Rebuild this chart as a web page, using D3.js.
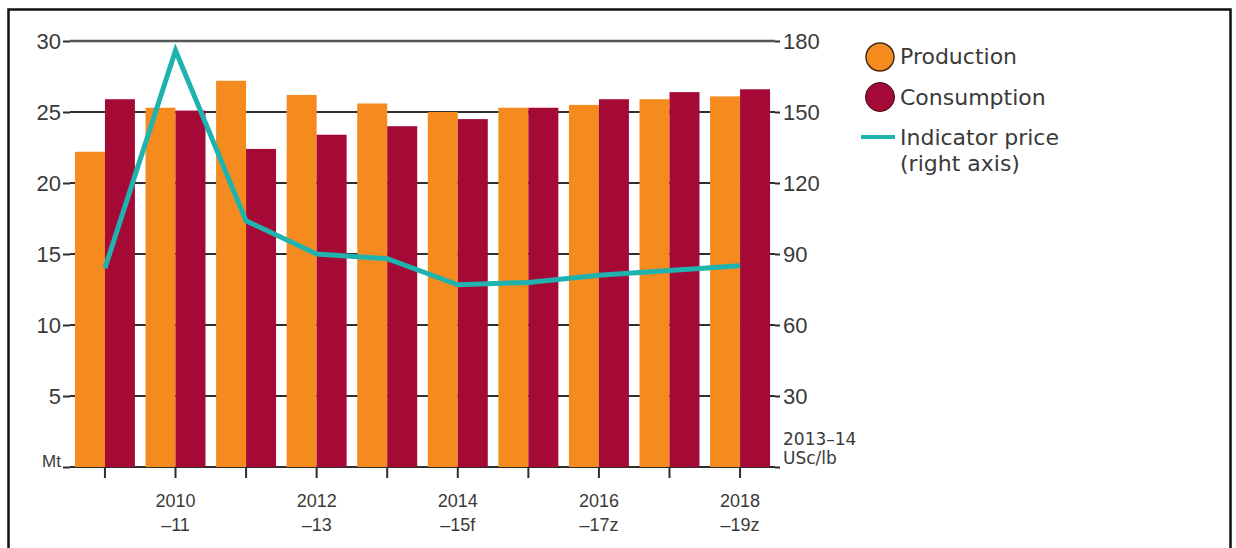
<!DOCTYPE html>
<html>
<head>
<meta charset="utf-8">
<script src="https://cdn.jsdelivr.net/npm/d3@7"></script>
<style>
  body { margin: 0; background: #fff; }
  svg { display: block; font-family: "DejaVu Sans", sans-serif; }
  .lbl { fill: #3a3a3a; }
</style>
</head>
<body>
<svg id="chart" width="1236" height="548"></svg>
<script>
// data
var seasons = ["2009-10","2010-11","2011-12","2012-13","2013-14","2014-15f","2015-16","2016-17z","2017-18","2018-19z"];
var production = [22.2, 25.3, 27.2, 26.2, 25.6, 25.0, 25.3, 25.5, 25.9, 26.1];
var consumption = [25.9, 25.1, 22.4, 23.4, 24.0, 24.5, 25.3, 25.9, 26.4, 26.6];
var price = [84, 176, 104, 90, 88, 77, 78, 81, 83, 85];
var xLabels = {"2010-11": ["2010","\u201311"], "2012-13": ["2012","\u201313"], "2014-15f": ["2014","\u201315f"], "2016-17z": ["2016","\u201317z"], "2018-19z": ["2018","\u201319z"]};
var leftTicks = [0, 5, 10, 15, 20, 25, 30];
var rightTicks = [0, 30, 60, 90, 120, 150, 180];

var colProd = "#f58b1f", colCons = "#a50a36", colPrice = "#1fb3b0", ink = "#2e2e2e";

var svg = d3.select("#chart");

// frame
svg.append("rect")
   .attr("x", 8.5).attr("y", 9.5)
   .attr("width", 1222).attr("height", 560)
   .attr("fill", "none").attr("stroke", "#111").attr("stroke-width", 2.5);

var pLeft = 70, pRight = 775, pTop = 41, pBottom = 467;

var x = d3.scaleBand().domain(seasons).range([pLeft, pRight]).paddingInner(0.15).paddingOuter(0.07);
var yL = d3.scaleLinear().domain([0, 30]).range([pBottom, pTop]);
var yR = d3.scaleLinear().domain([0, 180]).range([pBottom, pTop]);
var bw = x.bandwidth();

// gridlines behind bars
svg.append("g")
   .selectAll("line")
   .data(leftTicks)
   .enter()
   .append("line")
   .attr("x1", pLeft).attr("x2", pRight)
   .attr("y1", function (d) { return yL(d); })
   .attr("y2", function (d) { return yL(d); })
   .attr("stroke", function (d) { return d == 30 ? "#555" : ink; })
   .attr("stroke-width", function (d) { return d == 30 ? 2.5 : 2; });

// bars
var groups = svg.append("g")
   .selectAll("g")
   .data(seasons)
   .enter()
   .append("g");

groups.append("rect")
   .attr("x", function (d) { return x(d); })
   .attr("width", bw / 2)
   .attr("y", function (d, i) { return yL(production[i]); })
   .attr("height", function (d, i) { return pBottom - yL(production[i]); })
   .attr("fill", colProd);

groups.append("rect")
   .attr("x", function (d) { return x(d) + bw / 2; })
   .attr("width", bw / 2)
   .attr("y", function (d, i) { return yL(consumption[i]); })
   .attr("height", function (d, i) { return pBottom - yL(consumption[i]); })
   .attr("fill", colCons);

// left axis
var axL = svg.append("g")
   .attr("transform", "translate(" + pLeft + ",0)")
   .call(d3.axisLeft(yL).tickValues(leftTicks).tickSize(7).tickPadding(2)
           .tickFormat(function (d) { return d == 0 ? "Mt" : d; }));
axL.select(".domain").remove();
axL.selectAll(".tick line").attr("stroke", ink).attr("stroke-width", 2);
axL.selectAll(".tick text").attr("class", "lbl").attr("font-size", 22).attr("fill", "#3a3a3a");
axL.selectAll(".tick").filter(function (d) { return d == 0; })
   .select("text").attr("font-size", 17).attr("dy", "-0.05em");

// right axis
var axR = svg.append("g")
   .attr("transform", "translate(" + pRight + ",0)")
   .call(d3.axisRight(yR).tickValues(rightTicks).tickSize(5).tickPadding(3)
           .tickFormat(function (d) { return d == 0 ? "" : d; }));
axR.select(".domain").remove();
axR.selectAll(".tick line").attr("stroke", ink).attr("stroke-width", 2);
axR.selectAll(".tick text").attr("font-size", 22).attr("fill", "#3a3a3a");

var unitR = svg.append("text")
   .attr("class", "lbl")
   .attr("x", pRight + 8).attr("y", 445)
   .attr("font-size", 17);
unitR.append("tspan").attr("x", pRight + 8).text("2013\u201314");
unitR.append("tspan").attr("x", pRight + 8).attr("dy", 19).text("USc/lb");

// bottom axis
var axB = svg.append("g")
   .attr("transform", "translate(0," + pBottom + ")")
   .call(d3.axisBottom(x).tickSize(11).tickFormat(""));
axB.select(".domain").remove();
axB.selectAll(".tick line").attr("stroke", ink).attr("stroke-width", 2);
axB.selectAll(".tick")
   .filter(function (d) { return xLabels[d]; })
   .append("text")
   .attr("class", "lbl")
   .attr("font-size", 18)
   .attr("text-anchor", "middle")
   .each(function (d) {
      var t = d3.select(this);
      t.append("tspan").attr("x", 0).attr("y", 40).text(xLabels[d][0]);
      t.append("tspan").attr("x", 0).attr("y", 64).text(xLabels[d][1]);
   });

// price line
var line = d3.line()
   .x(function (d, i) { return x(seasons[i]) + bw / 2; })
   .y(function (d) { return yR(d); });

svg.append("path")
   .datum(price)
   .attr("d", line)
   .attr("fill", "none")
   .attr("stroke", colPrice)
   .attr("stroke-width", 5)
   .attr("stroke-linejoin", "miter");

// legend
var legend = svg.append("g").attr("class", "legend");
legend.append("circle").attr("cx", 880).attr("cy", 57).attr("r", 14)
   .attr("fill", colProd).attr("stroke", "#4a2a10").attr("stroke-width", 1.5);
legend.append("circle").attr("cx", 880).attr("cy", 97).attr("r", 14.5)
   .attr("fill", colCons).attr("stroke", "#3a0a18").attr("stroke-width", 1);
legend.append("line").attr("x1", 861).attr("x2", 895).attr("y1", 137).attr("y2", 137)
   .attr("stroke", colPrice).attr("stroke-width", 4);

var legText = [["Production", 64], ["Consumption", 105], ["Indicator price", 145], ["(right axis)", 171]];
legend.selectAll("text.leg")
   .data(legText)
   .enter()
   .append("text")
   .attr("class", "lbl leg")
   .attr("x", 900)
   .attr("y", function (d) { return d[1]; })
   .attr("font-size", 22)
   .text(function (d) { return d[0]; });
</script>
</body>
</html>
